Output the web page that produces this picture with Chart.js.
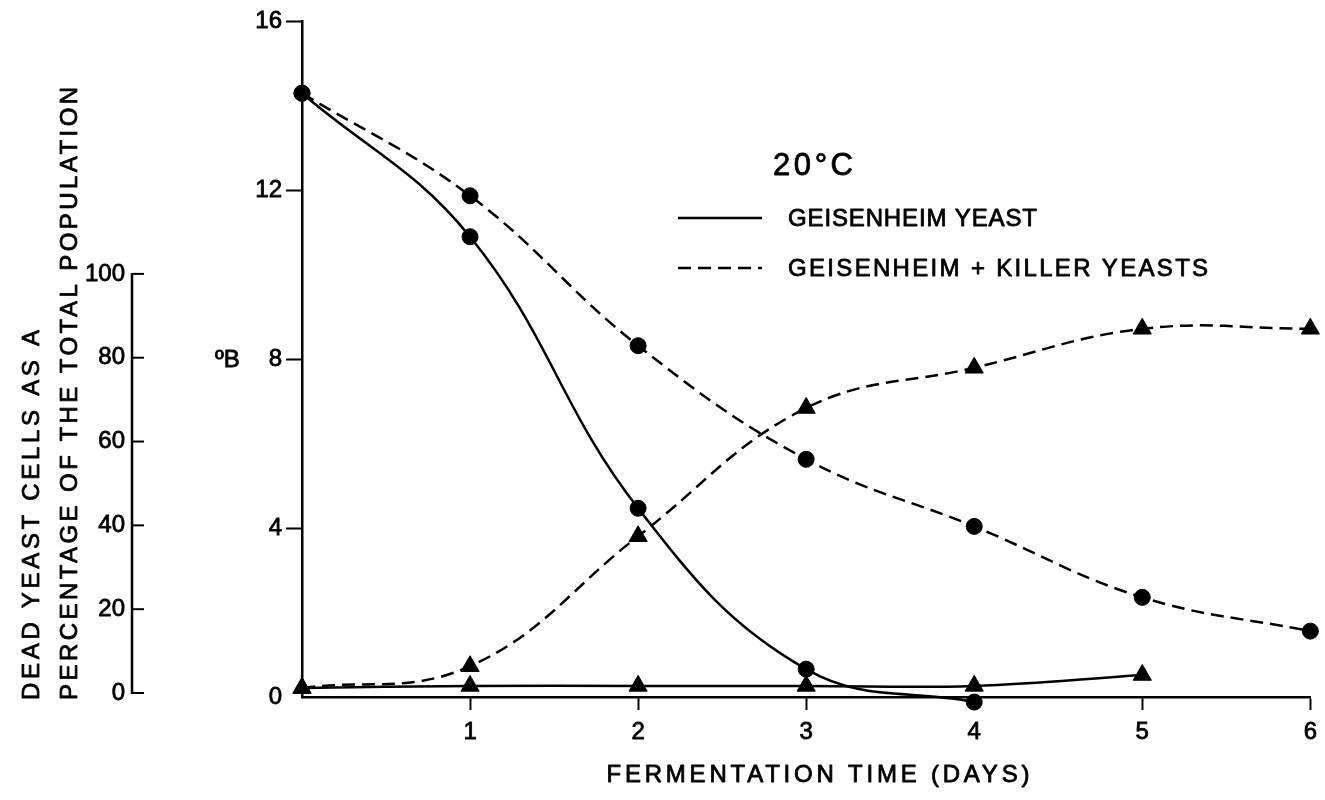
<!DOCTYPE html>
<html>
<head>
<meta charset="utf-8">
<script src="https://cdn.jsdelivr.net/npm/chart.js@4.4.0/dist/chart.umd.min.js"></script>
<style>
html,body{margin:0;padding:0;background:#fff;}
#wrap{width:1325px;height:800px;position:relative;}
</style>
</head>
<body>
<div id="wrap"><canvas id="c" width="1325" height="800"></canvas></div>
<script>
// ---- data ----
const days = [0, 1, 2, 3, 4, 5, 6];
const brixGeisenheim = [14.3, 10.9, 4.47, 0.66, -0.12];          // °B, solid, circles
const brixKiller = [14.3, 11.87, 8.32, 5.63, 4.04, 2.36, 1.56];   // °B, dashed, circles
const deadGeisenheim = [1.2, 1.7, 1.7, 1.7, 1.7, 4.3];            // %, solid, triangles
const deadKiller = [1.2, 6.4, 37.4, 68.0, 77.6, 86.9, 86.9];      // %, dashed, triangles
const brixTicks = [0, 4, 8, 12, 16];
const pctTicks = [0, 20, 40, 60, 80, 100];
const dayTicks = [1, 2, 3, 4, 5, 6];
const legendTitle = '20°C';
const seriesNames = ['GEISENHEIM YEAST', 'GEISENHEIM + KILLER YEASTS'];
const xTitle = 'FERMENTATION TIME (DAYS)';
const brixTitle = 'ºB';
const pctTitle = ['DEAD YEAST CELLS AS A', 'PERCENTAGE OF THE TOTAL POPULATION'];

const FONT = "'Liberation Sans', Arial, Helvetica, sans-serif";
const DASH = [13, 7];
const pts = (xs, ys) => ys.map((v, i) => ({x: xs[i], y: v}));

function fitText(ctx, s, x, y, size, targetW, align) {
  ctx.font = size + 'px ' + FONT;
  ctx.textBaseline = 'middle';
  ctx.textAlign = 'left';
  ctx.lineWidth = 0.8;
  ctx.lineJoin = 'round';
  const hasLS = ('letterSpacing' in ctx);
  if (hasLS) ctx.letterSpacing = '0px';
  const w = ctx.measureText(s).width;
  let startX = x;
  if (align === 'center') startX = x - targetW / 2;
  const draw = (xx, yy) => { ctx.fillText(s, xx, yy); ctx.strokeText(s, xx, yy); };
  if (!targetW) { draw(startX, y); return; }
  if (hasLS) {
    const ls = (targetW - w) / Math.max(1, s.length - 1);
    ctx.letterSpacing = ls.toFixed(2) + 'px';
    draw(startX, y);
    ctx.letterSpacing = '0px';
  } else {
    ctx.save();
    ctx.translate(startX, y);
    ctx.scale(targetW / w, 1);
    draw(0, 0);
    ctx.restore();
  }
}

const overlay = {
  id: 'overlay',
  afterDraw(chart) {
    const ctx = chart.ctx;
    const yp = chart.scales.yPct, yb = chart.scales.y;
    ctx.save();
    ctx.strokeStyle = '#000';
    ctx.fillStyle = '#000';
    ctx.lineWidth = 2.5;
    // percentage axis (ticks point inward)
    const ax = yp.right;
    ctx.beginPath();
    ctx.moveTo(ax, yp.getPixelForValue(0) + 1);
    ctx.lineTo(ax, yp.getPixelForValue(100) - 1);
    ctx.stroke();
    ctx.lineWidth = 2;
    pctTicks.forEach(v => {
      const py = yp.getPixelForValue(v);
      ctx.beginPath();
      ctx.moveTo(ax, py);
      ctx.lineTo(ax + 12, py);
      ctx.stroke();
    });
    // °B label
    fitText(ctx, brixTitle, 215, yb.getPixelForValue(8) + 1, 24, 0, 'left');
    // legend
    fitText(ctx, legendTitle, 773, 166, 31, 80, 'left');
    ctx.lineWidth = 2.5;
    ctx.beginPath(); ctx.setLineDash([]);
    ctx.moveTo(678, 218); ctx.lineTo(762, 218); ctx.stroke();
    ctx.beginPath(); ctx.setLineDash(DASH);
    ctx.moveTo(678, 268); ctx.lineTo(762, 268); ctx.stroke();
    ctx.setLineDash([]);
    fitText(ctx, seriesNames[0], 788, 219, 24, 249, 'left');
    fitText(ctx, seriesNames[1], 788, 269, 24, 420, 'left');
    // x title
    fitText(ctx, xTitle, 818, 775, 24, 423, 'center');
    // left rotated title
    ctx.save();
    ctx.translate(32, 700); ctx.rotate(-Math.PI / 2);
    fitText(ctx, pctTitle[0], 0, 0, 24, 370, 'left');
    ctx.restore();
    ctx.save();
    ctx.translate(70, 700); ctx.rotate(-Math.PI / 2);
    fitText(ctx, pctTitle[1], 0, 0, 24, 613, 'left');
    ctx.restore();
    ctx.restore();
  }
};

const tickFont = {family: FONT, size: 24};
const tickText = {color: '#000', font: tickFont, autoSkip: false, textStrokeColor: '#000', textStrokeWidth: 0.8};
const hide0 = c => (c.tick && c.tick.value === 0) ? 'rgba(0,0,0,0)' : '#000';

new Chart(document.getElementById('c'), {
  type: 'line',
  data: {
    datasets: [
      {label: 'brixGeisenheim', data: pts(days, brixGeisenheim), yAxisID: 'y',
       borderColor: '#000', backgroundColor: '#000', borderWidth: 2.5,
       pointStyle: 'circle', pointRadius: 8, pointBorderWidth: 1,
       tension: 0.4, clip: false},
      {label: 'brixKiller', data: pts(days, brixKiller), yAxisID: 'y',
       borderColor: '#000', backgroundColor: '#000', borderWidth: 2.5, borderDash: DASH,
       pointStyle: 'circle', pointRadius: 8, pointBorderWidth: 1,
       tension: 0.4, clip: false},
      {label: 'deadGeisenheim', data: pts(days, deadGeisenheim), yAxisID: 'yPct',
       borderColor: '#000', backgroundColor: '#000', borderWidth: 2.5,
       pointStyle: 'triangle', pointRadius: 10.5, pointBorderWidth: 1,
       tension: 0.4, clip: false},
      {label: 'deadKiller', data: pts(days, deadKiller), yAxisID: 'yPct',
       borderColor: '#000', backgroundColor: '#000', borderWidth: 2.5, borderDash: DASH,
       pointStyle: 'triangle', pointRadius: 10.5, pointBorderWidth: 1,
       tension: 0.4, clip: false}
    ]
  },
  options: {
    responsive: false,
    animation: false,
    layout: {padding: {left: 0, top: 20, right: 8, bottom: 0}},
    plugins: {legend: {display: false}, tooltip: {enabled: false}},
    scales: {
      x: {
        type: 'linear', min: 0, max: 6,
        afterBuildTicks: s => { s.ticks = dayTicks.map(v => ({value: v})); },
        afterFit: s => { s.height = 103; },
        grid: {drawOnChartArea: false, tickLength: 13, tickWidth: 2, tickColor: '#000'},
        border: {color: '#000', width: 2.5},
        ticks: Object.assign({}, tickText, {padding: 8, maxRotation: 0})
      },
      y: {
        position: 'left', weight: 0, min: 0, max: 16,
        afterBuildTicks: s => { s.ticks = brixTicks.map(v => ({value: v})); },
        afterFit: s => { s.width = 170; },
        grid: {drawOnChartArea: false, tickLength: 16, tickWidth: 2, tickColor: hide0, color: hide0},
        border: {color: '#000', width: 2.5},
        ticks: Object.assign({}, tickText, {padding: 4})
      },
      yPct: {
        position: 'left', weight: 1, min: -0.95, max: 160.24,
        afterBuildTicks: s => { s.ticks = pctTicks.map(v => ({value: v})); },
        afterFit: s => { s.width = 132; },
        grid: {display: false, drawTicks: false},
        border: {display: false},
        ticks: Object.assign({}, tickText, {padding: 7})
      }
    }
  },
  plugins: [overlay]
});
</script>
</body>
</html>
